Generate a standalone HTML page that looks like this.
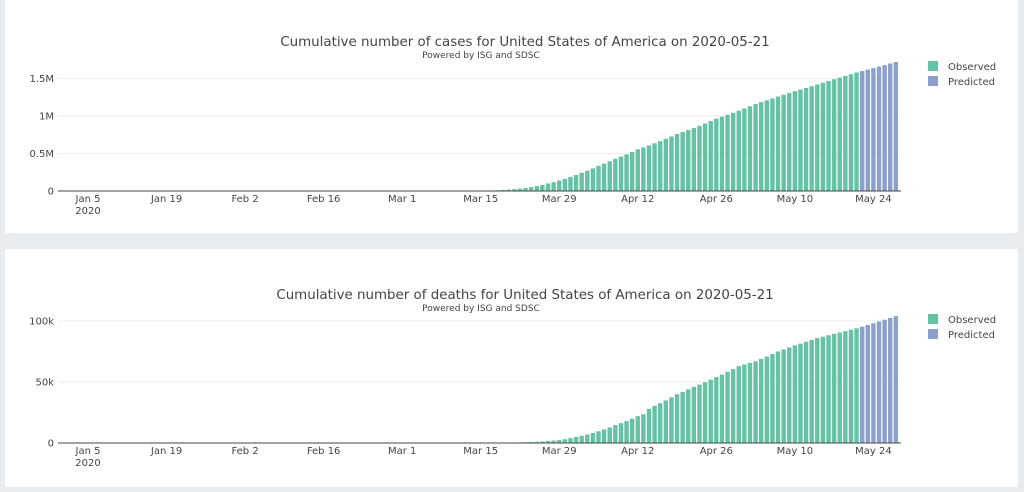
<!DOCTYPE html>
<html><head><meta charset="utf-8"><style>
html,body{margin:0;padding:0;width:1024px;height:492px;background:#e8ebf0;overflow:hidden}
svg{display:block}
text{font-family:"DejaVu Sans","Liberation Sans",sans-serif;fill:#444}
</style></head><body>
<svg id="s" width="1024" height="492" xmlns="http://www.w3.org/2000/svg">
<rect x="5" y="0" width="1013" height="233" fill="#fff"/>
<rect x="5" y="249" width="1013" height="238" fill="#fff"/>
<g id="g"></g>
</svg>
<script>
var ns="http://www.w3.org/2000/svg",g=document.getElementById('g');
function el(t,a,txt){var e=document.createElementNS(ns,t);for(var k in a)e.setAttribute(k,a[k]);if(txt!=null)e.textContent=txt;g.appendChild(e);return e;}
function d(m,day){var c=[0,31,60,91,121];return c[m-1]+day-1;}
function series(knots,end){var v=[];for(var i=0;i<=end;i++){var val=0;for(var k=0;k<knots.length-1;k++){var a=knots[k],b=knots[k+1];if(i>=a[0]&&i<=b[0]){var t=(i-a[0])/(b[0]-a[0]);val=Math.exp(Math.log(a[1])+t*(Math.log(b[1])-Math.log(a[1])));}}if(i<knots[0][0])val=0;v.push(val);}return v;}
var end=d(5,28);
var cases=series([[d(1,21),1],[d(2,1),8],[d(3,1),75],[d(3,5),230],[d(3,10),1000],[d(3,15),3500],[d(3,18),9000],[d(3,20),19000],[d(3,22),33000],[d(3,25),65000],[d(3,27),100000],[d(3,29),140000],[d(3,31),188000],[d(4,2),244000],[d(4,5),336000],[d(4,8),430000],[d(4,12),555000],[d(4,15),636000],[d(4,19),760000],[d(4,22),840000],[d(4,26),965000],[d(4,30),1070000],[d(5,3),1160000],[d(5,7),1260000],[d(5,10),1330000],[d(5,14),1420000],[d(5,17),1490000],[d(5,21),1580000],[d(5,28),1720000]],end);
var deaths=series([[d(2,29),1],[d(3,5),11],[d(3,10),30],[d(3,15),70],[d(3,20),250],[d(3,25),1000],[d(3,29),2500],[d(4,1),5000],[d(4,5),9600],[d(4,8),14700],[d(4,12),22000],[d(4,13),23600],[d(4,14),28000],[d(4,15),30500],[d(4,19),40000],[d(4,22),46000],[d(4,26),54000],[d(4,30),63000],[d(5,3),67000],[d(5,7),75000],[d(5,10),80000],[d(5,14),86000],[d(5,17),89500],[d(5,21),94000],[d(5,28),104000]],end);
var px=5.61, x0=88-4*px;
var obsEnd=d(5,21);
function chart(o){
 el('text',{x:525,y:o.ty,'font-size':13.4,'text-anchor':'middle'},o.title);
 el('text',{x:481,y:o.ty+12,'font-size':9,'text-anchor':'middle'},'Powered by ISG and SDSC');
 o.ticks.forEach(function(t){var y=o.base-t[0]*o.sc;if(t[0]>0)el('line',{x1:58,x2:901,y1:y,y2:y,stroke:'#eee','stroke-width':1});el('text',{x:54,y:y+3.5,'font-size':10,'text-anchor':'end'},t[1]);});
 o.data.forEach(function(v,i){var h=v*o.sc;if(h<0.3)return;var cx=x0+i*px;el('rect',{x:cx-2.2,y:o.base-h,width:4.4,height:h,fill:i>obsEnd?'#8da0cb':'#66c2a5'});});
 el('line',{x1:58,x2:901,y1:o.base,y2:o.base,stroke:'#444','stroke-width':1});
 var labs=['Jan 5','Jan 19','Feb 2','Feb 16','Mar 1','Mar 15','Mar 29','Apr 12','Apr 26','May 10','May 24'];
 labs.forEach(function(l,k){var x=88+k*14*px;el('text',{x:x,y:o.base+11,'font-size':10,'text-anchor':'middle'},l);});
 el('text',{x:88,y:o.base+23,'font-size':10,'text-anchor':'middle'},'2020');
 el('rect',{x:928,y:o.ly-5,width:10,height:10,fill:'#66c2a5'});
 el('text',{x:948,y:o.ly+4,'font-size':10},'Observed');
 el('rect',{x:928,y:o.ly+10,width:10,height:10,fill:'#8da0cb'});
 el('text',{x:948,y:o.ly+19,'font-size':10},'Predicted');
}
chart({title:'Cumulative number of cases for United States of America on 2020-05-21',ty:46,base:191,sc:37.5/500000,ticks:[[0,'0'],[500000,'0.5M'],[1000000,'1M'],[1500000,'1.5M']],data:cases,ly:66});
chart({title:'Cumulative number of deaths for United States of America on 2020-05-21',ty:299,base:443,sc:61/50000,ticks:[[0,'0'],[50000,'50k'],[100000,'100k']],data:deaths,ly:319});
</script>
</body></html>
